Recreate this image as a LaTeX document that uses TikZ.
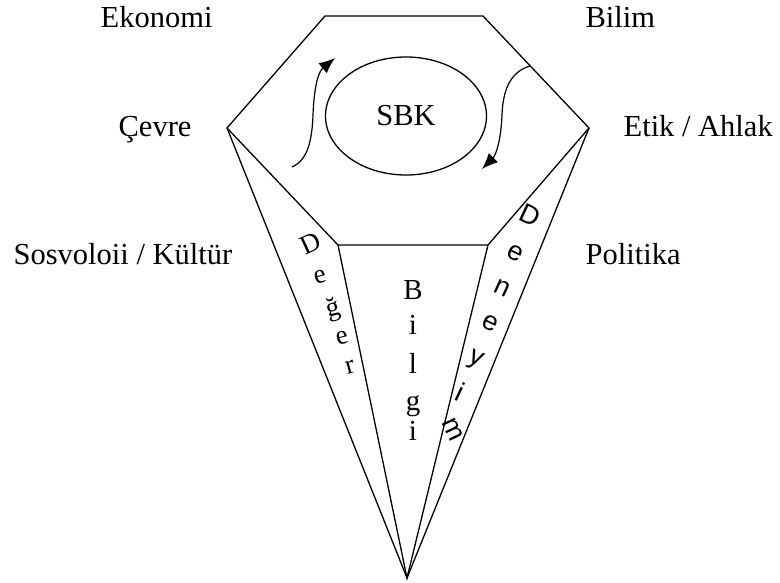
\documentclass[tikz,border=0pt]{standalone}
\usepackage{fontspec}
\setmainfont{Liberation Serif}
\newfontfamily\sansletters{Liberation Sans}
\usetikzlibrary{shapes.geometric,arrows.meta}

\begin{document}
\begin{tikzpicture}[x=1pt,y=-1pt,line width=1.3pt,
    lbl/.style={anchor=base west,inner sep=0,font=\fontsize{30.5}{36}\selectfont},
    deger/.style={inner sep=0,rotate=15,font=\fontsize{27}{30}\selectfont},
    deneyim/.style={inner sep=0,rotate=-25,font=\sansletters\fontsize{27}{30}\selectfont},
    bilgi/.style={anchor=base,inner sep=0,font=\fontsize{29}{32}\selectfont},
    cyclearrow/.style={-{Latex[length=16pt,width=13pt]},line width=1.2pt}]
  \useasboundingbox (0,0) rectangle (780,583);

  % corners of the hexagon and the tip
  \coordinate (tl) at (325,16);
  \coordinate (tr) at (483,16);
  \coordinate (r) at (589,128);
  \coordinate (br) at (488,245);
  \coordinate (bl) at (338,245);
  \coordinate (l) at (227,128);
  \coordinate (apex) at (407,578);

  \draw (tl) -- (tr) -- (r) -- (br) -- (bl) -- (l) -- cycle;
  \draw (l) -- (apex) -- (r);
  \draw (bl) -- (apex) -- (br);

  \node[draw,ellipse,minimum width=161pt,minimum height=118pt,inner sep=0,
        font=\fontsize{30.5}{36}\selectfont] (sbk) at (406,116) {SBK};

  % turning arrows round SBK
  \coordinate (lstart) at (292,167);
  \coordinate (lend) at (335,58);
  \coordinate (rstart) at (530,66);
  \coordinate (rend) at (482,169);
  \draw[cyclearrow] (lstart) .. controls (308,160) and (312,140) .. (313,115)
        .. controls (314,88) and (318,72) .. (lend);
  \draw[cyclearrow] (rstart) .. controls (510,72) and (503,90) .. (502,115)
        .. controls (501,140) and (496,155) .. (rend);

  % outer labels
  \node[lbl] (ekonomi) at (100,28) {Ekonomi};
  \node[lbl] (bilim) at (585,28) {Bilim};
  \node[lbl] (cevre) at (118,137) {Çevre};
  \node[lbl] (etik) at (623,137) {Etik / Ahlak};
  \node[lbl] (sosyo) at (13,265) {Sosvoloii / Kültür};
  \node[lbl] (politika) at (585,265) {Politika};

  % Deger
  \node[deger,rotate=10] (d1) at (311,243) {D};
  \node[deger] (d2) at (320,277) {e};
  \node[deger] (d3) at (333,310) {ğ};
  \node[deger] (d4) at (342,338) {e};
  \node[deger] (d5) at (350,367) {r};

  % Bilgi
  \node[bilgi] (b1) at (413,299) {B};
  \node[bilgi] (b2) at (413,334) {i};
  \node[bilgi] (b3) at (413,373) {l};
  \node[bilgi] (b4) at (413,410) {g};
  \node[bilgi] (b5) at (413,440) {i};

  % Deneyim
  \node[deneyim] (n1) at (530,215) {D};
  \node[deneyim] (n2) at (515,253) {e};
  \node[deneyim] (n3) at (502,288) {n};
  \node[deneyim] (n4) at (490,323) {e};
  \node[deneyim] (n5) at (475,360) {y};
  \node[deneyim] (n6) at (460,392) {i};
  \node[deneyim,rotate=-40] (n7) at (453,430) {m};
\end{tikzpicture}
\end{document}
